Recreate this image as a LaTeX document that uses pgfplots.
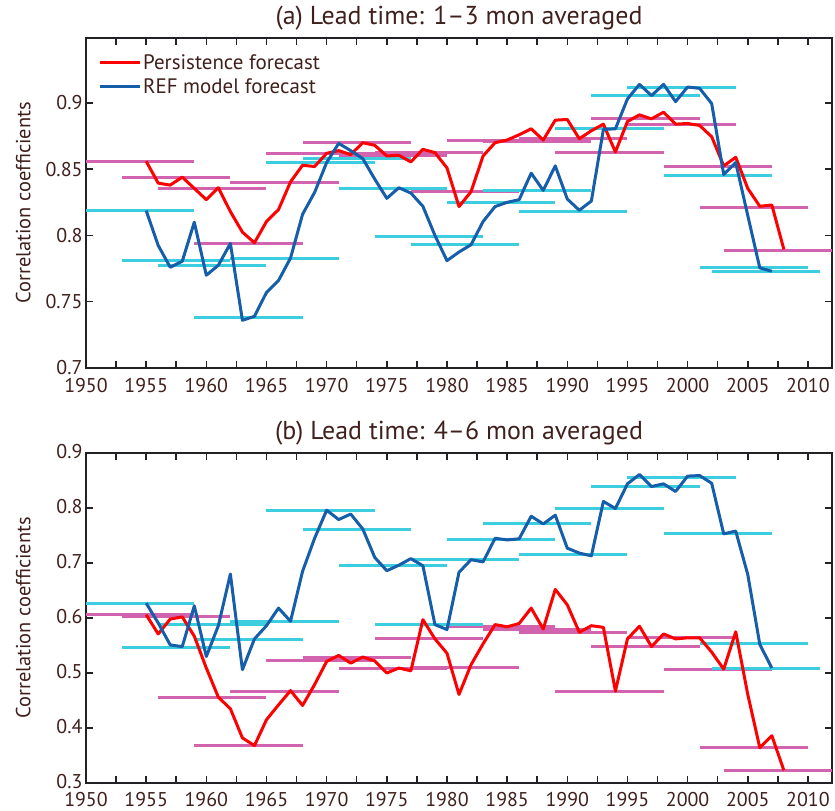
\documentclass[border=0pt]{standalone}
\usepackage{fontspec}
\setmainfont{PT Sans}
\usepackage{pgfplots}
\pgfplotsset{compat=1.18}

\definecolor{pers}{RGB}{255,0,0}
\definecolor{refm}{RGB}{22,94,170}
\definecolor{persbar}{RGB}{210,100,175}
\definecolor{refbar}{RGB}{60,205,222}
\definecolor{txt}{RGB}{64,32,28}
\definecolor{axc}{RGB}{34,34,38}

\pgfplotsset{
  panel/.style={
    scale only axis, width=746bp, height=330bp,
    xmin=1950, xmax=2012,
    xtick={1950,1955,...,2010}, minor x tick num=1,
    tick align=inside,
    major tick length=7bp, minor tick length=7bp,
    every tick/.style={axc, line width=1.5bp},
    axis line style={axc, line width=2.2bp},
    /pgf/number format/1000 sep={},
    /pgf/number format/assume math mode=true,
    tick label style={font=\fontsize{20}{22}\selectfont, text=txt},
    ylabel={Correlation coefficients},
    ylabel style={at={(axis description cs:-0.084,0.5)}, anchor=center,
                  font=\fontsize{20.5}{22}\selectfont, text=txt},
    title style={font=\fontsize{26}{28}\selectfont, text=txt, yshift=-2bp},
    unbounded coords=jump,
  },
  seg/.style={line width=3bp, forget plot},
  ser/.style={line width=3bp, line join=round},
}

\begin{document}
\begin{tikzpicture}
\path[use as bounding box] (0,0) rectangle (835bp,811bp);

% ---------------- (a) 1-3 mon
\begin{axis}[panel, at={(86bp,443bp)}, anchor=south west,
  ymin=0.7, ymax=0.949, ytick={0.7,0.75,...,0.9},
  xticklabel style={yshift=-6.5bp},
  title={(a) Lead time: 1--3 mon averaged},
  legend style={at={(0.012,0.962)}, anchor=north west, draw=none, fill=none,
    font=\fontsize{21}{23}\selectfont, text=txt, row sep=3.5bp},
  legend cell align=left,
  legend image code/.code={\draw[#1] (0bp,0bp) -- (40bp,0bp);},
]
\addplot[seg, persbar] coordinates {
(1950,0.856) (1959,0.856) (1959,nan)
(1953,0.844) (1962,0.844) (1962,nan)
(1956,0.8355) (1965,0.8355) (1965,nan)
(1959,0.794) (1968,0.794) (1968,nan)
(1962,0.840) (1971,0.840) (1971,nan)
(1965,0.862) (1974,0.862) (1974,nan)
(1968,0.870) (1977,0.870) (1977,nan)
(1971,0.8605) (1980,0.8605) (1980,nan)
(1974,0.8625) (1983,0.8625) (1983,nan)
(1977,0.833) (1986,0.833) (1986,nan)
(1980,0.872) (1989,0.872) (1989,nan)
(1983,0.871) (1992,0.871) (1992,nan)
(1986,0.873) (1995,0.873) (1995,nan)
(1989,0.8625) (1998,0.8625) (1998,nan)
(1992,0.888) (2001,0.888) (2001,nan)
(1995,0.884) (2004,0.884) (2004,nan)
(1998,0.852) (2007,0.852) (2007,nan)
(2001,0.821) (2010,0.821) (2010,nan)
(2003,0.789) (2012,0.789)
};
\addplot[seg, refbar] coordinates {
(1950,0.819) (1959,0.819) (1959,nan)
(1953,0.781) (1962,0.781) (1962,nan)
(1956,0.7775) (1965,0.7775) (1965,nan)
(1959,0.738) (1968,0.738) (1968,nan)
(1962,0.7825) (1971,0.7825) (1971,nan)
(1965,0.855) (1974,0.855) (1974,nan)
(1968,0.858) (1977,0.858) (1977,nan)
(1971,0.8355) (1980,0.8355) (1980,nan)
(1974,0.799) (1983,0.799) (1983,nan)
(1977,0.793) (1986,0.793) (1986,nan)
(1980,0.825) (1989,0.825) (1989,nan)
(1983,0.834) (1992,0.834) (1992,nan)
(1986,0.818) (1995,0.818) (1995,nan)
(1989,0.8805) (1998,0.8805) (1998,nan)
(1992,0.9055) (2001,0.9055) (2001,nan)
(1995,0.912) (2004,0.912) (2004,nan)
(1998,0.8455) (2007,0.8455) (2007,nan)
(2001,0.7755) (2010,0.7755) (2010,nan)
(2002,0.773) (2011,0.773)
};
\addplot[ser, pers] coordinates {
(1955,0.856) (1956,0.8395) (1957,0.838) (1958,0.844) (1959,0.8355)
(1960,0.827) (1961,0.836) (1962,0.818) (1963,0.8025) (1964,0.7945)
(1965,0.8105) (1966,0.8195) (1967,0.8405) (1968,0.853) (1969,0.852)
(1970,0.862) (1971,0.864) (1972,0.861) (1973,0.870) (1974,0.868)
(1975,0.860) (1976,0.8605) (1977,0.8555) (1978,0.865) (1979,0.8625)
(1980,0.851) (1981,0.8218) (1982,0.833) (1983,0.860) (1984,0.870)
(1985,0.872) (1986,0.876) (1987,0.8805) (1988,0.872) (1989,0.887)
(1990,0.8875) (1991,0.873) (1992,0.879) (1993,0.884) (1994,0.863)
(1995,0.886) (1996,0.891) (1997,0.888) (1998,0.893) (1999,0.884)
(2000,0.8845) (2001,0.883) (2002,0.8745) (2003,0.8525) (2004,0.859)
(2005,0.8355) (2006,0.822) (2007,0.823) (2008,0.7895)
};
\addlegendentry{Persistence forecast}
\addplot[ser, refm] coordinates {
(1955,0.8188) (1956,0.7925) (1957,0.776) (1958,0.7805) (1959,0.810)
(1960,0.770) (1961,0.7775) (1962,0.794) (1963,0.736) (1964,0.739)
(1965,0.757) (1966,0.766) (1967,0.783) (1968,0.816) (1969,0.8325)
(1970,0.855) (1971,0.8695) (1972,0.864) (1973,0.858) (1974,0.8425)
(1975,0.828) (1976,0.836) (1977,0.832) (1978,0.822) (1979,0.800)
(1980,0.781) (1981,0.7875) (1982,0.793) (1983,0.8105) (1984,0.8218)
(1985,0.825) (1986,0.827) (1987,0.847) (1988,0.834) (1989,0.8525)
(1990,0.8275) (1991,0.819) (1992,0.826) (1993,0.880) (1994,0.8805)
(1995,0.903) (1996,0.914) (1997,0.9055) (1998,0.914) (1999,0.901)
(2000,0.912) (2001,0.911) (2002,0.8995) (2003,0.846) (2004,0.855)
(2005,0.815) (2006,0.7755) (2007,0.773)
};
\addlegendentry{REF model forecast}
\end{axis}

% ---------------- (b) 4-6 mon
\begin{axis}[panel, at={(86bp,28bp)}, anchor=south west,
  ymin=0.3, ymax=0.9, ytick={0.3,0.4,...,0.9},
  xticklabel style={inner ysep=0bp, yshift=-8.7bp},
  yticklabel style={inner ysep=0bp, yshift=1.5bp},
  title={(b) Lead time: 4--6 mon averaged},
]
\addplot[seg, persbar] coordinates {
(1950,0.607) (1959,0.607) (1959,nan)
(1953,0.602) (1962,0.602) (1962,nan)
(1956,0.455) (1965,0.455) (1965,nan)
(1959,0.368) (1968,0.368) (1968,nan)
(1962,0.467) (1971,0.467) (1971,nan)
(1965,0.522) (1974,0.522) (1974,nan)
(1968,0.529) (1977,0.529) (1977,nan)
(1971,0.509) (1980,0.509) (1980,nan)
(1974,0.562) (1983,0.562) (1983,nan)
(1977,0.510) (1986,0.510) (1986,nan)
(1980,0.584) (1989,0.584) (1989,nan)
(1983,0.580) (1992,0.580) (1992,nan)
(1986,0.573) (1995,0.573) (1995,nan)
(1989,0.467) (1998,0.467) (1998,nan)
(1992,0.548) (2001,0.548) (2001,nan)
(1995,0.564) (2004,0.564) (2004,nan)
(1998,0.506) (2007,0.506) (2007,nan)
(2001,0.365) (2010,0.365) (2010,nan)
(2003,0.322) (2012,0.322)
};
\addplot[seg, refbar] coordinates {
(1950,0.627) (1959,0.627) (1959,nan)
(1953,0.547) (1962,0.547) (1962,nan)
(1956,0.588) (1965,0.588) (1965,nan)
(1959,0.561) (1968,0.561) (1968,nan)
(1962,0.593) (1971,0.593) (1971,nan)
(1965,0.795) (1974,0.795) (1974,nan)
(1968,0.761) (1977,0.761) (1977,nan)
(1971,0.695) (1980,0.695) (1980,nan)
(1974,0.588) (1983,0.588) (1983,nan)
(1977,0.706) (1986,0.706) (1986,nan)
(1980,0.742) (1989,0.742) (1989,nan)
(1983,0.771) (1992,0.771) (1992,nan)
(1986,0.716) (1995,0.716) (1995,nan)
(1989,0.800) (1998,0.800) (1998,nan)
(1992,0.840) (2001,0.840) (2001,nan)
(1995,0.856) (2004,0.856) (2004,nan)
(1998,0.753) (2007,0.753) (2007,nan)
(2001,0.553) (2010,0.553) (2010,nan)
(2002,0.509) (2011,0.509)
};
\addplot[ser, pers] coordinates {
(1955,0.606) (1956,0.571) (1957,0.598) (1958,0.602) (1959,0.567)
(1960,0.509) (1961,0.456) (1962,0.435) (1963,0.382) (1964,0.368)
(1965,0.415) (1966,0.442) (1967,0.468) (1968,0.441) (1969,0.479)
(1970,0.521) (1971,0.532) (1972,0.518) (1973,0.529) (1974,0.522)
(1975,0.500) (1976,0.509) (1977,0.504) (1978,0.597) (1979,0.562)
(1980,0.536) (1981,0.461) (1982,0.515) (1983,0.553) (1984,0.588)
(1985,0.584) (1986,0.590) (1987,0.618) (1988,0.580) (1989,0.652)
(1990,0.624) (1991,0.574) (1992,0.586) (1993,0.583) (1994,0.467)
(1995,0.562) (1996,0.585) (1997,0.548) (1998,0.571) (1999,0.562)
(2000,0.564) (2001,0.564) (2002,0.538) (2003,0.507) (2004,0.575)
(2005,0.461) (2006,0.364) (2007,0.386) (2008,0.323)
};
\addplot[ser, refm] coordinates {
(1955,0.627) (1956,0.591) (1957,0.551) (1958,0.548) (1959,0.622)
(1960,0.530) (1961,0.586) (1962,0.680) (1963,0.506) (1964,0.562)
(1965,0.586) (1966,0.618) (1967,0.594) (1968,0.685) (1969,0.745)
(1970,0.796) (1971,0.779) (1972,0.789) (1973,0.762) (1974,0.710)
(1975,0.686) (1976,0.696) (1977,0.708) (1978,0.695) (1979,0.588)
(1980,0.579) (1981,0.683) (1982,0.706) (1983,0.702) (1984,0.745)
(1985,0.742) (1986,0.744) (1987,0.785) (1988,0.771) (1989,0.787)
(1990,0.727) (1991,0.718) (1992,0.713) (1993,0.812) (1994,0.799)
(1995,0.844) (1996,0.861) (1997,0.839) (1998,0.844) (1999,0.830)
(2000,0.858) (2001,0.859) (2002,0.845) (2003,0.753) (2004,0.758)
(2005,0.679) (2006,0.552) (2007,0.509)
};
\end{axis}
\end{tikzpicture}
\end{document}
